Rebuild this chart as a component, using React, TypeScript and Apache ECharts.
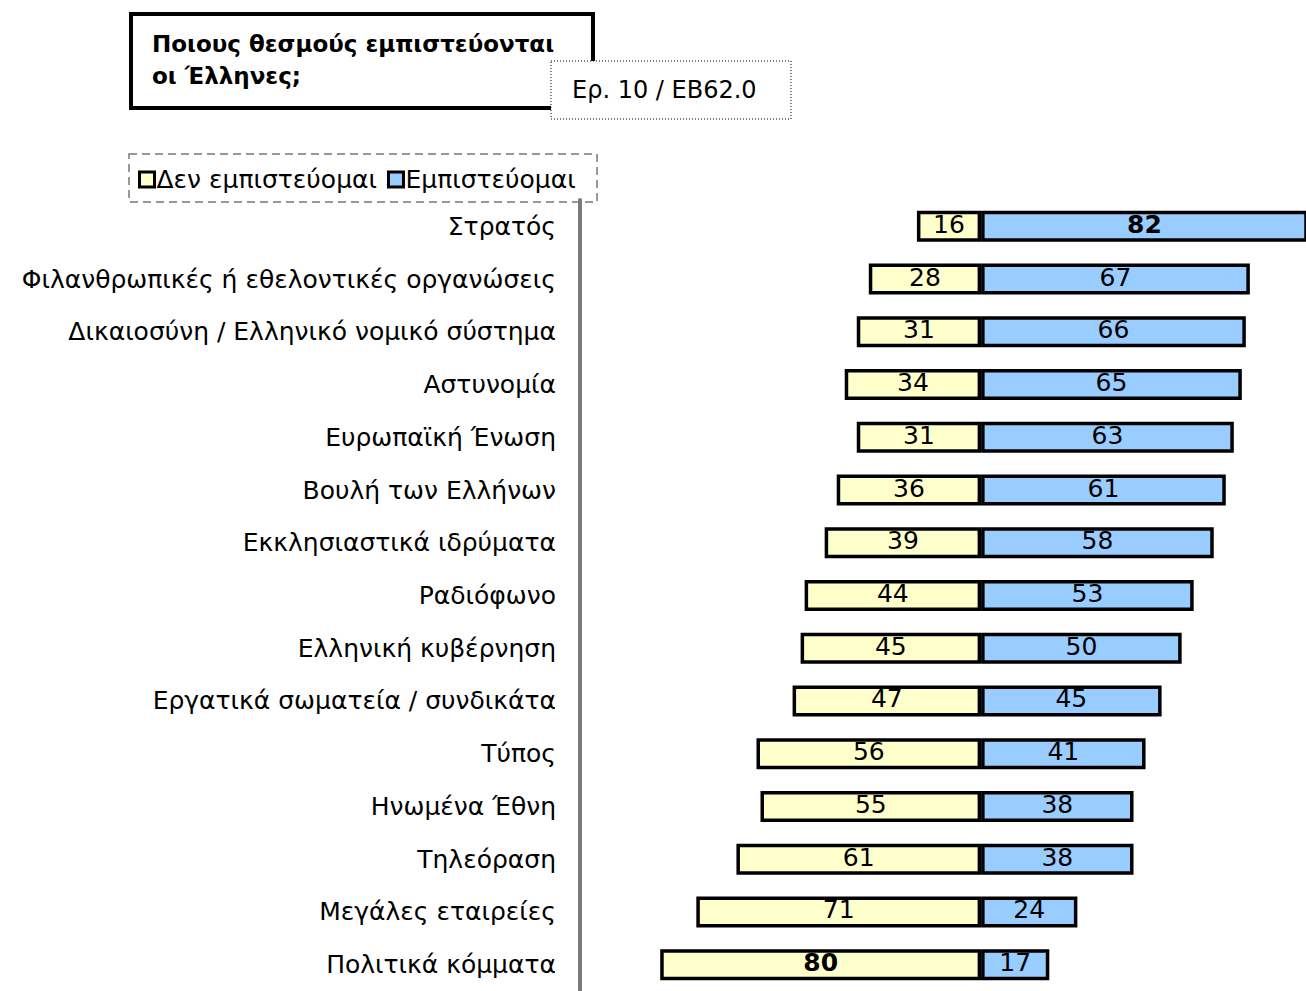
import React, { useEffect, useRef } from "react";
import * as echarts from "echarts";

const categories = [
  "Στρατός",
  "Φιλανθρωπικές ή εθελοντικές οργανώσεις",
  "Δικαιοσύνη / Ελληνικό νομικό σύστημα",
  "Αστυνομία",
  "Ευρωπαϊκή Ένωση",
  "Βουλή των Ελλήνων",
  "Εκκλησιαστικά ιδρύματα",
  "Ραδιόφωνο",
  "Ελληνική κυβέρνηση",
  "Εργατικά σωματεία / συνδικάτα",
  "Τύπος",
  "Ηνωμένα Έθνη",
  "Τηλεόραση",
  "Μεγάλες εταιρείες",
  "Πολιτικά κόμματα",
];
const distrust = [16, 28, 31, 34, 31, 36, 39, 44, 45, 47, 56, 55, 61, 71, 80];
const trust = [82, 67, 66, 65, 63, 61, 58, 53, 50, 45, 41, 38, 38, 24, 17];

const titleText = "Ποιους θεσμούς εμπιστεύονται\nοι Έλληνες;";
const subtitleText = "Ερ. 10 / EB62.0";
const seriesNames = ["Δεν εμπιστεύομαι", "Εμπιστεύομαι"];

const FONT = "DejaVu Sans";

export default function App() {
  const ref = useRef<HTMLDivElement>(null);
  useEffect(() => {
    if (!ref.current) return;
    const chart = echarts.init(ref.current, undefined, { renderer: "svg" });
    const maxD = Math.max(...distrust);
    const maxT = Math.max(...trust);
    const labelStyle = (bold: (v: number) => boolean) => ({
      show: true,
      position: "inside" as const,
      offset: [0, -2],
      color: "#000",
      fontFamily: FONT,
      fontSize: 25,
      formatter: (p: any) => {
        const v = Math.abs(p.value);
        return bold(v) ? `{b|${v}}` : `${v}`;
      },
      rich: { b: { fontWeight: "bold", fontSize: 25, fontFamily: FONT, color: "#000" } },
    });
    chart.setOption({
      animation: false,
      backgroundColor: "#fff",
      grid: { left: 580, right: 0, top: 200, bottom: -4, containLabel: false },
      xAxis: {
        type: "value",
        min: -100,
        max: 81,
        show: false,
      },
      yAxis: {
        type: "category",
        data: categories,
        inverse: true,
        axisLine: { show: true, onZero: false, lineStyle: { color: "#7a7a7a", width: 4 } },
        axisTick: { show: false },
        axisLabel: {
          fontFamily: FONT,
          fontSize: 25,
          color: "#000",
          margin: 24,
        },
      },
      legend: {
        show: true,
        left: 133,
        top: 162,
        itemWidth: 15,
        itemHeight: 15,
        itemGap: 10,
        icon: "rect",
        itemStyle: { borderColor: "#000", borderWidth: 3 },
        textStyle: { fontFamily: FONT, fontSize: 25, color: "#000", padding: [0, 0, 0, -3] },
        data: seriesNames,
      },
      series: [
        {
          name: seriesNames[0],
          type: "bar",
          stack: "total",
          barWidth: 31,
          clip: true,
          data: distrust.map((v) => -v),
          itemStyle: { color: "#FFFFCC", borderColor: "#000", borderWidth: 3.5 },
          label: labelStyle((v) => v === maxD),
        },
        {
          name: seriesNames[1],
          type: "bar",
          stack: "total",
          barWidth: 31,
          clip: true,
          data: trust,
          itemStyle: { color: "#99CCFF", borderColor: "#000", borderWidth: 3.5 },
          label: labelStyle((v) => v === maxT),
        },
      ],
      graphic: [
        {
          type: "rect",
          shape: { x: 131, y: 14, width: 462, height: 94 },
          style: { fill: "#fff", stroke: "#000", lineWidth: 4 },
          z: 10,
        },
        {
          type: "text",
          x: 152,
          y: 28,
          style: {
            text: titleText,
            fontFamily: FONT,
            fontWeight: "bold",
            fontSize: 23,
            lineHeight: 32,
            fill: "#000",
          },
          z: 11,
        },
        {
          type: "rect",
          shape: { x: 551, y: 61, width: 240, height: 58 },
          style: { fill: "#fff", stroke: "#000", lineWidth: 1, lineDash: [1, 2] },
          z: 12,
        },
        {
          type: "text",
          x: 572,
          y: 78,
          style: {
            text: subtitleText,
            fontFamily: FONT,
            fontSize: 24,
            fill: "#000",
          },
          z: 13,
        },
        {
          type: "rect",
          shape: { x: 129, y: 154, width: 468, height: 48 },
          style: { fill: "none", stroke: "#777", lineWidth: 1.5, lineDash: [8, 5] },
          z: 5,
        },
      ],
    });
    return () => chart.dispose();
  }, []);
  return (
    <div
      ref={ref}
      style={{ position: "fixed", left: 0, top: 0, width: 1306, height: 991 }}
    />
  );
}
